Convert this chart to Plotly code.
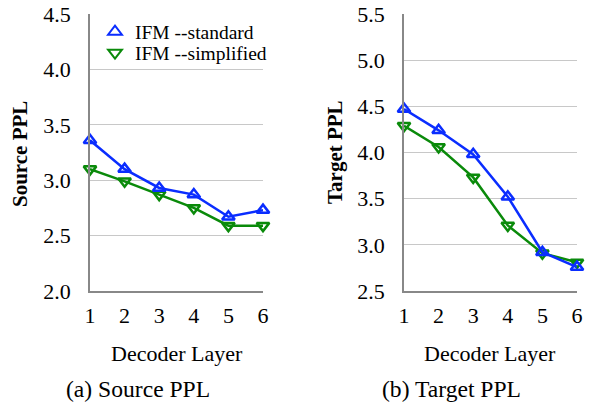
import plotly.graph_objects as go
from plotly.subplots import make_subplots

layers = [1, 2, 3, 4, 5, 6]
src_standard = [3.36, 3.10, 2.93, 2.87, 2.67, 2.73]
src_simplified = [3.10, 2.99, 2.87, 2.75, 2.59, 2.59]
tgt_standard = [4.47, 4.24, 3.98, 3.52, 2.92, 2.76]
tgt_simplified = [4.29, 4.06, 3.73, 3.21, 2.91, 2.81]

src_ticks = [2.0, 2.5, 3.0, 3.5, 4.0, 4.5]
tgt_ticks = [2.5, 3.0, 3.5, 4.0, 4.5, 5.0, 5.5]

BLUE = "#0a2dff"
GREEN = "#0a8a0a"
FONT = "Liberation Serif, Times New Roman, serif"

fig = make_subplots(rows=1, cols=2)

def add(col, y, name, color, symbol, legend=None):
    mk = dict(symbol=symbol, size=11, color=color, line=dict(color=color, width=2.5))
    if legend is None:
        fig.add_trace(go.Scatter(
            x=layers, y=y, name=name, mode="lines+markers",
            line=dict(color=color, width=2.5), marker=mk,
            showlegend=False, cliponaxis=False), row=1, col=col)
    else:
        fig.add_trace(go.Scatter(
            x=[None], y=[None], name=name, mode="markers",
            marker=mk, showlegend=True, legend=legend), row=1, col=col)

add(1, src_simplified, "IFM --simplified", GREEN, "triangle-down-open")
add(1, src_standard, "IFM --standard", BLUE, "triangle-up-open")
add(2, tgt_simplified, "IFM --simplified", GREEN, "triangle-down-open")
add(2, tgt_standard, "IFM --standard", BLUE, "triangle-up-open")
add(1, None, "IFM --standard", BLUE, "triangle-up-open", legend="legend")
add(1, None, "IFM --simplified", GREEN, "triangle-down-open", legend="legend2")

W, H = 591, 403
dom1 = [90 / W, 263 / W]
dom2 = [404 / W, 577 / W]
ydom = [1 - 291 / H, 1 - 14 / H]

xcommon = dict(range=[1, 6], tickvals=layers, showgrid=False, zeroline=False,
               showline=True, linecolor="#888888", linewidth=1.5, automargin=False,
               ticks="outside", ticklen=4, tickcolor="rgba(0,0,0,0)",
               tickfont=dict(family=FONT, size=22, color="black"))
ycommon = dict(showgrid=True, gridcolor="#c8c8c8", gridwidth=1, zeroline=False,
               showline=True, linecolor="#888888", linewidth=1.5, automargin=False,
               ticks="outside", ticklen=13, tickcolor="rgba(0,0,0,0)",
               tickfont=dict(family=FONT, size=22, color="black"))

fig.update_xaxes(domain=dom1, row=1, col=1, **xcommon)
fig.update_xaxes(domain=dom2, row=1, col=2, **xcommon)
fig.update_yaxes(domain=ydom, range=[2.0, 4.5], tickvals=src_ticks,
                 ticktext=[f"{v:.1f}" for v in src_ticks], row=1, col=1, **ycommon)
fig.update_yaxes(domain=ydom, range=[2.5, 5.5], tickvals=tgt_ticks,
                 ticktext=[f"{v:.1f}" for v in tgt_ticks], row=1, col=2, **ycommon)

def note(text, x, y, size, angle=0):
    return dict(text=text, x=x / W, y=1 - y / H, xref="paper", yref="paper",
                xanchor="center", yanchor="middle", textangle=angle, showarrow=False,
                font=dict(family=FONT, size=size, color="black"))

ann = [
    note("<b>Source PPL</b>", 20, 154, 21, -90),
    note("<b>Target PPL</b>", 335, 152, 21, -90),
    note("Decoder Layer", 177, 353, 22),
    note("Decoder Layer", 490, 353, 22),
    note("(a) Source PPL", 138, 389, 23.6),
    note("(b) Target PPL", 451, 389, 23.6),
]

leg = dict(xanchor="left", yanchor="middle", bgcolor="rgba(0,0,0,0)",
           font=dict(family=FONT, size=19.5, color="black"), itemsizing="constant")

fig.update_layout(
    width=W, height=H, margin=dict(l=0, r=0, t=0, b=0, autoexpand=False),
    paper_bgcolor="white", plot_bgcolor="white",
    annotations=ann,
    legend=dict(x=95 / W, y=1 - 32 / H, **leg),
    legend2=dict(x=95 / W, y=1 - 53 / H, **leg),
)

fig.write_html("out.html")
